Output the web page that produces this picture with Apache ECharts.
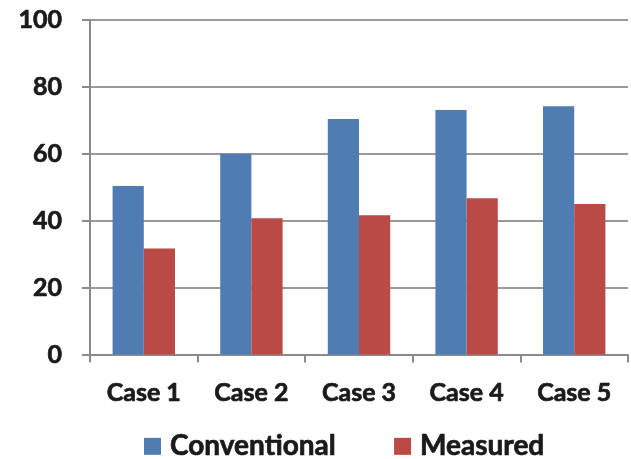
<!DOCTYPE html>
<html>
<head>
<meta charset="utf-8">
<script src="https://cdn.jsdelivr.net/npm/echarts@6/dist/echarts.min.js"></script>
<style>
  html, body { margin: 0; padding: 0; background: #ffffff; }
  #chart { width: 631px; height: 459px; }
</style>
</head>
<body>
<div id="chart"></div>
<script>
// Categories and series values
const categories = ['Case 1', 'Case 2', 'Case 3', 'Case 4', 'Case 5'];
const conventional = [50.4, 60.0, 70.4, 73.1, 74.2];
const measured = [31.7, 40.7, 41.6, 46.7, 45.0];
const yTicks = [0, 20, 40, 60, 80, 100];

const FONT = 'Lato';
const TEXT = '#1a1a1a';
const GRIDC = '#9a9a9a';
const AXISC = '#8a8a8a';

// Heavy bold text: a thin outline in the text colour thickens the strokes
const heavy = { textBorderColor: TEXT, textBorderWidth: 0.7 };

const chart = echarts.init(document.getElementById('chart'), null, { renderer: 'canvas' });

chart.setOption({
  animation: false,
  backgroundColor: '#ffffff',
  grid: { left: 90, right: 3, top: 20, bottom: 104.5, containLabel: false },
  legend: {
    left: 144,
    top: 432,
    padding: 0,
    itemWidth: 17,
    itemHeight: 17,
    itemGap: 58,
    icon: 'rect',
    textStyle: Object.assign({
      fontFamily: FONT, fontWeight: 'bold', fontSize: 28, color: TEXT,
      lineHeight: 17, padding: [0, 0, 0, 4]
    }, heavy),
    data: ['Conventional', 'Measured']
  },
  xAxis: {
    type: 'category',
    data: categories,
    axisLine: { lineStyle: { color: AXISC, width: 2 } },
    axisTick: { show: true, length: 8, alignWithLabel: false, lineStyle: { color: AXISC, width: 2 } },
    axisLabel: Object.assign({ fontFamily: FONT, fontWeight: 'bold', fontSize: 25, color: TEXT, margin: 26 }, heavy)
  },
  yAxis: {
    type: 'value',
    min: yTicks[0],
    max: yTicks[yTicks.length - 1],
    interval: 20,
    axisLine: { show: true, lineStyle: { color: AXISC, width: 2 } },
    axisTick: { show: true, length: 8, lineStyle: { color: AXISC, width: 2 } },
    splitLine: { show: true, lineStyle: { color: GRIDC, width: 2 } },
    axisLabel: Object.assign({ fontFamily: FONT, fontWeight: 'bold', fontSize: 25, color: TEXT, margin: 28 }, heavy)
  },
  series: [
    {
      name: 'Conventional',
      type: 'bar',
      data: conventional,
      barGap: '0%',
      barCategoryGap: '42%',
      itemStyle: { color: '#4f7db3' }
    },
    {
      name: 'Measured',
      type: 'bar',
      data: measured,
      barGap: '0%',
      barCategoryGap: '42%',
      itemStyle: { color: '#b94a45' }
    }
  ]
});
</script>
</body>
</html>
